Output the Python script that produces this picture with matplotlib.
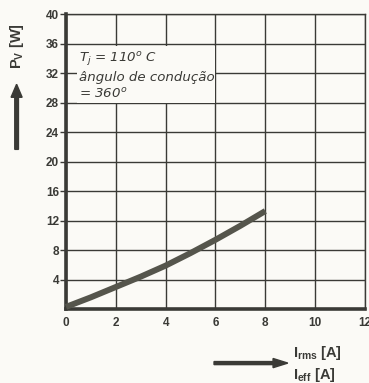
import matplotlib.pyplot as plt
import numpy as np

# power loss curve
i_rms = [0, 1, 2, 3, 4, 5, 6, 7, 8]
p_v = [0.3, 1.6, 3.0, 4.4, 5.9, 7.6, 9.4, 11.3, 13.3]

x_ticks = [0, 2, 4, 6, 8, 10, 12]
y_ticks = [4, 8, 12, 16, 20, 24, 28, 32, 36, 40]

ink = '#3a3a36'
paper = '#fbfaf6'

plt.rcParams['mathtext.fontset'] = 'dejavusans'

fig = plt.figure(figsize=(3.69, 3.83), dpi=100, facecolor=paper)
ax = fig.add_axes([0.179, 0.193, 0.81, 0.77], facecolor=paper)

ax.set_xlim(0, 12)
ax.set_ylim(0, 40)
ax.set_xticks(x_ticks)
ax.set_yticks(y_ticks)
ax.grid(True, color=ink, linewidth=1.0)
ax.set_axisbelow(True)

for s in ['top', 'right']:
    ax.spines[s].set_linewidth(1.0)
    ax.spines[s].set_color(ink)
for s in ['left', 'bottom']:
    ax.spines[s].set_linewidth(2.6)
    ax.spines[s].set_color(ink)

ax.tick_params(axis='y', length=4, width=1, color=ink, pad=1, labelsize=8.5, labelcolor=ink)
ax.tick_params(axis='x', length=0, pad=6, labelsize=8.5, labelcolor=ink)
for lab in ax.get_xticklabels() + ax.get_yticklabels():
    lab.set_fontweight('bold')
    lab.set_family('Liberation Sans')
ax.get_xticklabels()[-1].set_clip_on(False)

ax.plot(i_rms, p_v, color='#55554c', linewidth=4.3, solid_capstyle='butt', zorder=5, clip_on=False)

ax.text(0.5, 35.1, '$T_j$ = 110$^o$ C\nângulo de condução\n= 360$^o$',
        fontsize=9.6, style='italic', color=ink, va='top', ha='left', family='DejaVu Sans',
        linespacing=1.28,
        bbox=dict(facecolor=paper, edgecolor='none', pad=1), zorder=4)

# axis labels with arrows
fig.text(0.045, 0.88, r'P$_\mathregular{V}$ [W]', rotation=90, ha='center', va='center',
         fontsize=10.5, fontweight='bold', color=ink, family='Liberation Sans')
fig.patches.append(plt.Arrow(0.045, 0.61, 0, 0.17, width=0.05, color=ink, transform=fig.transFigure))
fig.text(0.795, 0.078, r'I$_\mathregular{rms}$ [A]', ha='left', va='center',
         fontsize=10.5, fontweight='bold', color=ink, family='Liberation Sans')
fig.text(0.795, 0.022, r'I$_\mathregular{eff}$ [A]', ha='left', va='center',
         fontsize=10.5, fontweight='bold', color=ink, family='Liberation Sans')
fig.patches.append(plt.Arrow(0.58, 0.052, 0.2, 0, width=0.04, color=ink, transform=fig.transFigure))

fig.savefig('out.png', dpi=100, facecolor=paper)
